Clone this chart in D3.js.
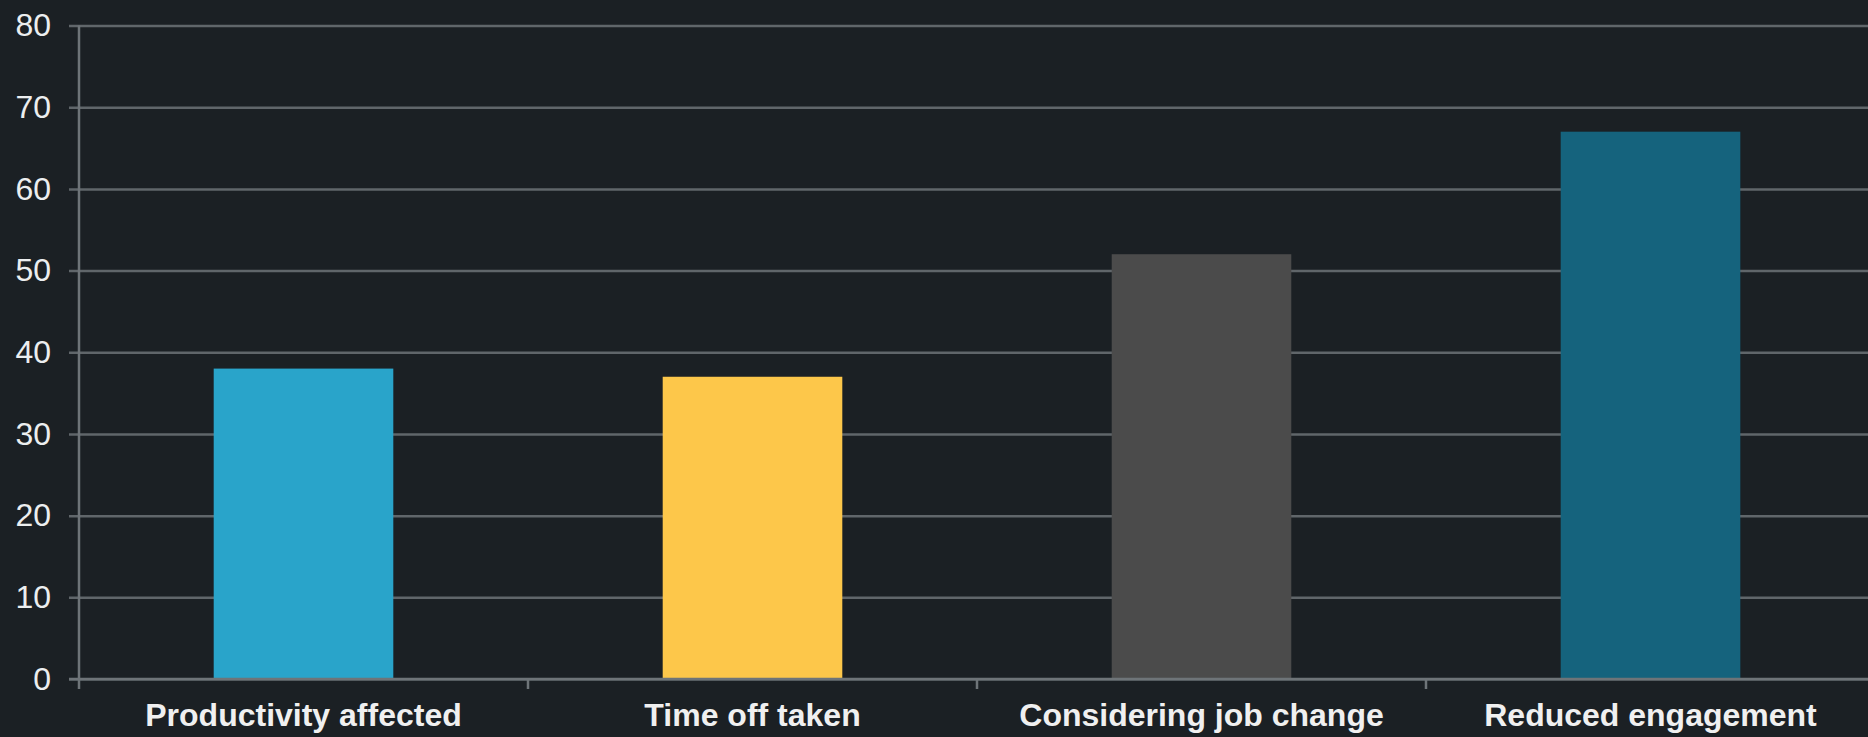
<!DOCTYPE html>
<html>
<head>
<meta charset="utf-8">
<script src="https://cdn.jsdelivr.net/npm/d3@7"></script>
<style>
    html, body { margin: 0; padding: 0; background: #1b2024; }
    svg { display: block; }
</style>
</head>
<body>
<svg></svg>
<script>
const categories = ["Productivity affected", "Time off taken", "Considering job change", "Reduced engagement"];
const values = [38, 37, 52, 67];
const barColors = ["#29a4ca", "#fdc74a", "#4b4b4b", "#15637d"];
const yTicks = [0, 10, 20, 30, 40, 50, 60, 70, 80];

const width = 1868;
const height = 737;
const margin = { top: 25.5, right: -7, bottom: 58, left: 79 };

const svg = d3.select("svg")
    .attr("width", width)
    .attr("height", height)
    .style("background-color", "#1b2024");

const x = d3.scaleBand()
    .domain(categories)
    .range([margin.left, width - margin.right])
    .paddingInner(0.6)
    .paddingOuter(0.3);

const y = d3.scaleLinear()
    .domain([0, 80])
    .range([height - margin.bottom, margin.top]);

// gridlines + y labels, drawn through the axis generator
const yAxis = svg.append("g")
    .attr("transform", `translate(${margin.left},0)`)
    .call(d3.axisLeft(y)
        .tickValues(yTicks)
        .tickSize(-(width - margin.left + 10)));

yAxis.select(".domain").remove();
yAxis.selectAll(".tick line")
    .attr("x1", -10)
    .attr("stroke", "#60666a")
    .attr("stroke-width", 2.5);
yAxis.selectAll(".tick text")
    .attr("fill", "#eceeef")
    .attr("font-family", "'Liberation Sans', Arial, sans-serif")
    .attr("font-size", 32)
    .attr("x", -28);

// vertical axis line
svg.append("line")
    .attr("x1", margin.left)
    .attr("x2", margin.left)
    .attr("y1", y(80))
    .attr("y2", y(0) + 10)
    .attr("stroke", "#6e7478")
    .attr("stroke-width", 2.5);

// bars
svg.selectAll("rect.bar")
    .data(values)
    .enter()
    .append("rect")
    .attr("class", "bar")
    .attr("x", (d, i) => x(categories[i]))
    .attr("y", d => y(d))
    .attr("width", x.bandwidth())
    .attr("height", d => y(0) - y(d))
    .attr("fill", (d, i) => barColors[i]);

// baseline + category separators
svg.append("line")
    .attr("x1", margin.left - 10)
    .attr("x2", width)
    .attr("y1", y(0))
    .attr("y2", y(0))
    .attr("stroke", "#6e7478")
    .attr("stroke-width", 2.5);

const step = x.step();
for (let i = 1; i < categories.length; i++) {
    const sx = margin.left + i * step;
    svg.append("line")
        .attr("x1", sx)
        .attr("x2", sx)
        .attr("y1", y(0))
        .attr("y2", y(0) + 10)
        .attr("stroke", "#6e7478")
        .attr("stroke-width", 2.5);
}

// category labels
svg.selectAll("text.cat")
    .data(categories)
    .enter()
    .append("text")
    .attr("class", "cat")
    .attr("x", d => x(d) + x.bandwidth() / 2)
    .attr("y", 726)
    .attr("text-anchor", "middle")
    .attr("fill", "#f0f0f0")
    .attr("font-family", "'Liberation Sans', Arial, sans-serif")
    .attr("font-weight", "bold")
    .attr("font-size", 32)
    .text(d => d);
</script>
</body>
</html>
